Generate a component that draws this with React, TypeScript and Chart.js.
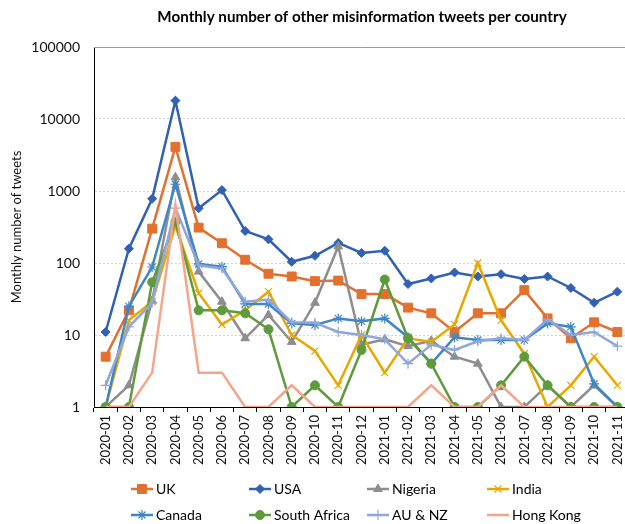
import React, { useEffect, useRef } from "react";
import { Chart, registerables } from "chart.js";
import { drawPoint } from "chart.js/helpers";

Chart.register(...registerables);

const TITLE = "Monthly number of other misinformation tweets per country";
const Y_TITLE = "Monthly number of tweets";

const months = [
  "2020-01", "2020-02", "2020-03", "2020-04", "2020-05", "2020-06",
  "2020-07", "2020-08", "2020-09", "2020-10", "2020-11", "2020-12",
  "2021-01", "2021-02", "2021-03", "2021-04", "2021-05", "2021-06",
  "2021-07", "2021-08", "2021-09", "2021-10", "2021-11",
];

const yTicks = [1, 10, 100, 1000, 10000, 100000];

const uk = [5, 22, 300, 4100, 310, 188, 111, 71, 65, 56, 57, 37, 37, 24, 20, 11, 20, 20, 42, 17, 9, 15, 11];
const usa = [11, 158, 780, 18000, 575, 1030, 278, 213, 104, 126, 190, 138, 148, 51, 61, 74, 65, 70, 60, 65, 45, 28, 40];
const nigeria = [1, 2, 30, 1550, 76, 29, 9, 19, 8, 28, 170, 7.3, 8.7, 7, 8.3, 5, 4, 1, 1, 2, 1, 2, 1];
const india = [1, 16, 29, 330, 38, 14, 22, 40, 10, 6, 2, 10, 3, 9, 8, 14, 100, 16, 5.5, 1, 2, 5, 2];
const canada = [1, 25, 88, 1240, 97, 89, 27, 27, 14.5, 13.8, 17, 15.5, 17, 9.3, 4, 9.3, 8.5, 8.5, 8.5, 14.5, 13, 2.1, 1];
const southAfrica = [1, 1, 54, 375, 22, 22, 20, 12, 1, 2, 1, 6.2, 59, 9, 4, 1, 1, 2, 5, 2, 1, 1, 1];
const auNz = [2, 13, 28, 580, 93, 84, 29, 31, 15, 14.8, 11, 10, 8.7, 4, 7.3, 6.2, 8.2, 9, 8.5, 16.5, 10, 11, 7];
const hongKong = [1, 1, 3, 640, 3, 3, 1, 1, 2, 1, 1, 1, 1, 1, 2, 1, 1, 2, 1, 1, 1, 1, 1];

const FONT = "Lato";

type SeriesStyle = { color: string; point: string | false; radius: number; pbw: number };

const series: { name: string; data: number[]; style: SeriesStyle }[] = [
  { name: "UK", data: uk, style: { color: "#E2702E", point: "rect", radius: 6.3, pbw: 1 } },
  { name: "USA", data: usa, style: { color: "#3161B0", point: "rectRot", radius: 4.5, pbw: 1 } },
  { name: "Nigeria", data: nigeria, style: { color: "#8E8E8E", point: "triangle", radius: 5, pbw: 1 } },
  { name: "India", data: india, style: { color: "#E8A800", point: "crossRot", radius: 5, pbw: 1.2 } },
  { name: "Canada", data: canada, style: { color: "#3F86C5", point: "star", radius: 5, pbw: 1.2 } },
  { name: "South Africa", data: southAfrica, style: { color: "#5E9B3C", point: "circle", radius: 4.5, pbw: 1 } },
  { name: "AU & NZ", data: auNz, style: { color: "#8FA7DC", point: "cross", radius: 5, pbw: 1.2 } },
  { name: "Hong Kong", data: hongKong, style: { color: "#F3A68B", point: false, radius: 0, pbw: 0 } },
];

const legendX = [131, 249, 367, 487];
const legendY = [489, 515];

const overlayPlugin = {
  id: "overlay",
  afterDraw(chart: any) {
    const ctx = chart.ctx as CanvasRenderingContext2D;
    const a = chart.chartArea;
    ctx.save();
    // top line of plot area
    ctx.strokeStyle = "#9a9a9a";
    ctx.lineWidth = 1;
    ctx.beginPath();
    ctx.moveTo(a.left, a.top + 0.5);
    ctx.lineTo(a.right, a.top + 0.5);
    ctx.stroke();
    // title
    ctx.fillStyle = "#000";
    ctx.font = `bold 15.2px ${FONT}`;
    ctx.textAlign = "center";
    ctx.textBaseline = "middle";
    ctx.fillText(TITLE, 362, 17);
    // legend
    chart.data.datasets.forEach((ds: any, i: number) => {
      const col = i % 4;
      const row = Math.floor(i / 4);
      const x = legendX[col];
      const y = legendY[row];
      ctx.strokeStyle = ds.borderColor;
      ctx.lineWidth = ds.borderWidth;
      ctx.beginPath();
      ctx.moveTo(x, y);
      ctx.lineTo(x + 22, y);
      ctx.stroke();
      if (ds.pointStyle && ds.pointRadius > 0) {
        ctx.fillStyle = ds.pointBackgroundColor;
        ctx.strokeStyle = ds.pointBorderColor;
        ctx.lineWidth = ds.pointBorderWidth;
        drawPoint(ctx, { pointStyle: ds.pointStyle, rotation: 0, radius: ds.pointRadius, borderWidth: ds.pointBorderWidth }, x + 11, y);
      }
      ctx.fillStyle = "#000";
      ctx.font = `14px ${FONT}`;
      ctx.textAlign = "left";
      ctx.textBaseline = "middle";
      ctx.fillText(ds.label, x + 25, y);
    });
    ctx.restore();
  },
};

function App() {
  const ref = useRef<HTMLCanvasElement | null>(null);
  useEffect(() => {
    if (!ref.current) return;
    const n = series.length;
    const chart = new Chart(ref.current, {
      type: "line",
      data: {
        labels: months,
        datasets: series.map((s, i) => ({
          label: s.name,
          data: s.data,
          borderColor: s.style.color,
          backgroundColor: s.style.color,
          borderWidth: 2.5,
          pointStyle: s.style.point as any,
          pointRadius: s.style.radius,
          pointBackgroundColor: s.style.color,
          pointBorderColor: s.style.color,
          pointBorderWidth: s.style.pbw,
          pointHoverRadius: s.style.radius,
          tension: 0,
          fill: false,
          order: n - 1 - i,
        })),
      },
      options: {
        responsive: false,
        animation: false,
        devicePixelRatio: 1,
        layout: { padding: { top: 47, left: 0, right: 11, bottom: 0 } },
        plugins: {
          legend: { display: false },
          title: { display: false },
          tooltip: { enabled: false },
        },
        scales: {
          x: {
            type: "category",
            offset: true,
            grid: {
              display: true,
              drawOnChartArea: false,
              drawTicks: true,
              tickLength: 5,
              offset: true,
              color: "#000",
            },
            border: { display: true, color: "#000", width: 1 },
            ticks: {
              autoSkip: false,
              maxRotation: 90,
              minRotation: 90,
              padding: 3,
              color: "#111",
              font: { family: FONT, size: 13 },
            },
            afterFit(scale: any) {
              scale.height = 117;
            },
          },
          y: {
            type: "logarithmic",
            min: 1,
            max: 100000,
            afterBuildTicks(scale: any) {
              scale.ticks = yTicks.map((v) => ({ value: v }));
            },
            afterFit(scale: any) {
              scale.width = 94;
            },
            grid: { color: "#d4d4d4", drawTicks: false },
            border: { display: true, color: "#000", width: 1, dash: [2, 2] },
            ticks: {
              padding: 14,
              color: "#111",
              font: { family: FONT, size: 14 },
              callback: (v: any) => String(v),
            },
            title: {
              display: true,
              text: Y_TITLE,
              color: "#111",
              font: { family: FONT, size: 13 },
              padding: { top: 9, bottom: 0 },
            },
          },
        },
      },
      plugins: [overlayPlugin],
    });
    return () => chart.destroy();
  }, []);
  return (
    <div style={{ position: "fixed", left: 0, top: 0, width: 625, height: 524, overflow: "hidden", background: "#fff" }}>
      <canvas ref={ref} width={640} height={524} style={{ width: 640, height: 524, display: "block" }} />
    </div>
  );
}

export default App;
